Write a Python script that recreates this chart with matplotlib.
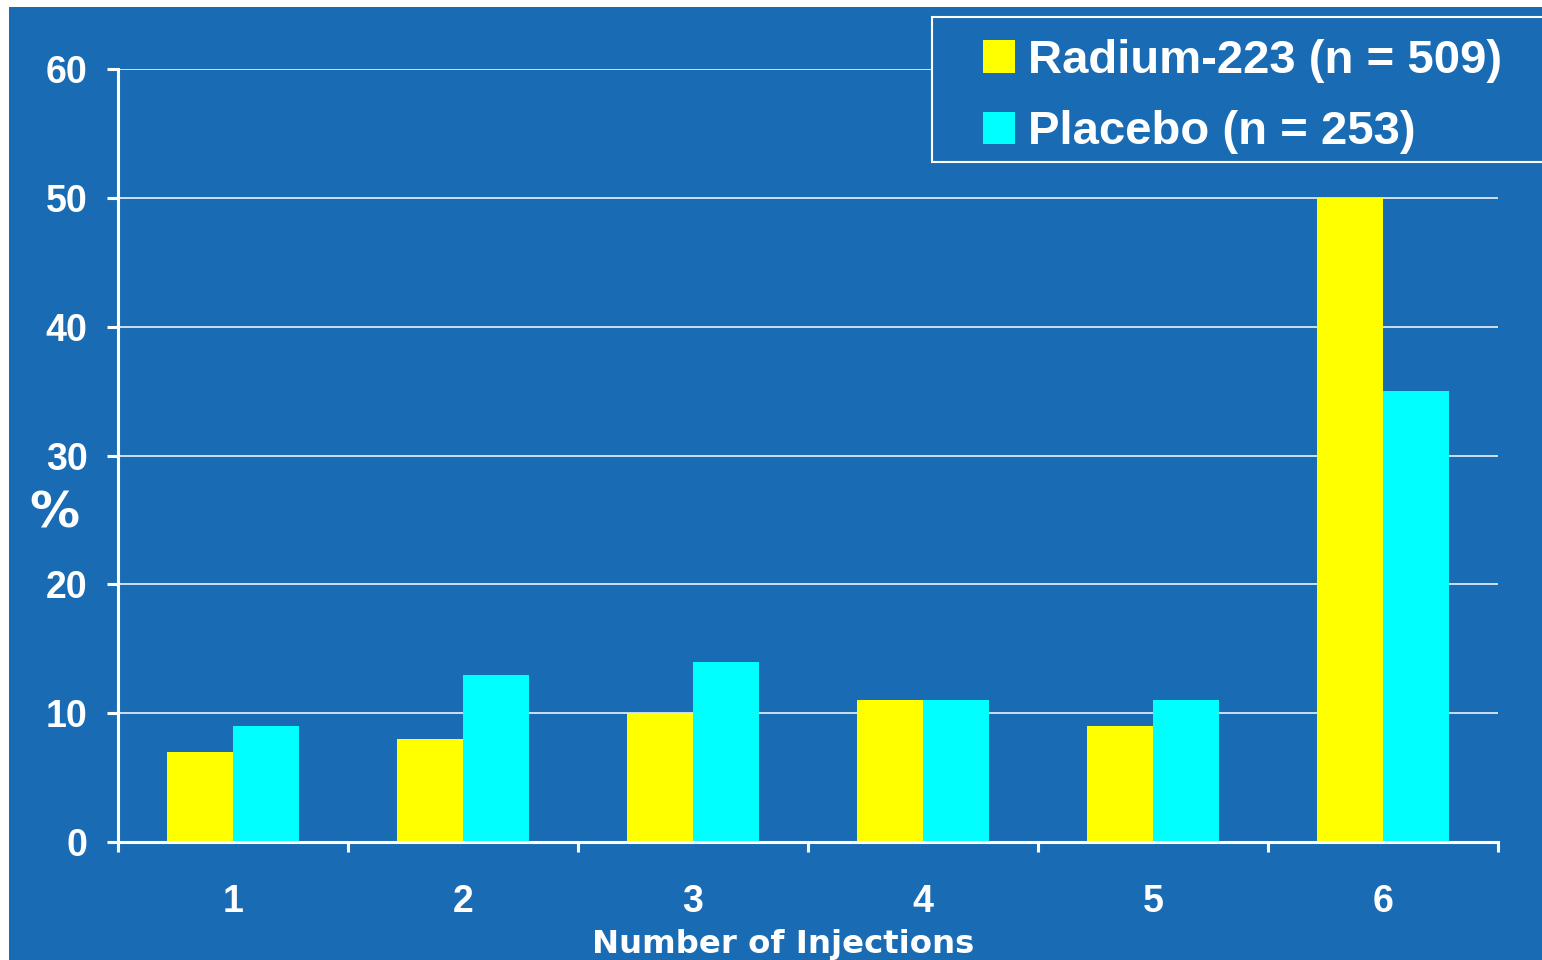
import matplotlib
matplotlib.use('Agg')
import matplotlib.pyplot as plt
from matplotlib.patches import Rectangle, Patch
import numpy as np

# data
injections = ['1', '2', '3', '4', '5', '6']
radium = [7, 8, 10, 11, 9, 50]
placebo = [9, 13, 14, 11, 11, 35]
series_labels = ['Radium-223 (n = 509)', 'Placebo (n = 253)']
yticks = [0, 10, 20, 30, 40, 50, 60]

BLUE = '#196CB4'
W, H = 1542, 960

fig = plt.figure(figsize=(W / 100, H / 100), dpi=100, facecolor='white')
# blue slide background, white margin on left and top
fig.patches.append(Rectangle((9 / W, 0), 1, 1 - 7 / H, transform=fig.transFigure,
                             facecolor=BLUE, edgecolor='none', zorder=-1))

ax = fig.add_axes([118 / W, 118 / H, 1380 / W, 773 / H])
ax.set_facecolor('none')

x = np.arange(len(injections))
bw = 0.285
ax.bar(x - bw / 2, radium, bw, color='#FFFF00', zorder=3)
ax.bar(x + bw / 2, placebo, bw, color='#00FFFF', zorder=3)

ax.set_xlim(-0.5, len(injections) - 0.5)
ax.set_ylim(0, 60)
ax.set_yticks(yticks)
ax.set_xticks(x)
ax.set_xticklabels(injections)
ax.set_xticks(np.arange(len(injections) + 1) - 0.5, minor=True)
ax.tick_params(axis='x', which='major', length=0, pad=30)
ax.tick_params(axis='x', which='minor', length=7, width=2.2, color='white', direction='out')
ax.tick_params(axis='y', length=8, width=2.2, color='white', direction='out', pad=14)
for lab in ax.get_xticklabels() + ax.get_yticklabels():
    lab.set_fontfamily('Liberation Sans')
    lab.set_fontweight('bold')
    lab.set_fontsize(27)
    lab.set_color('white')

ax.yaxis.grid(True, color='white', linewidth=1.1, zorder=1)
ax.set_axisbelow(True)
for side in ['top', 'right']:
    ax.spines[side].set_visible(False)
for side in ['left', 'bottom']:
    ax.spines[side].set_color('white')
    ax.spines[side].set_linewidth(2.2)
ax.spines['bottom'].set_zorder(4)

fig.text(54 / W, 1 - 513 / H, '%', fontsize=36, fontweight='bold', color='white',
         family='DejaVu Sans', ha='center', va='center')
fig.text(783 / W, 1 - 944 / H, 'Number of Injections', fontsize=23.3, fontweight='bold',
         color='white', family='DejaVu Sans', ha='center', va='center')

# legend box, running off the right edge as in the slide
fig.patches.append(Rectangle((932 / W, 1 - 162 / H), 700 / W, 145 / H, transform=fig.transFigure,
                             facecolor=BLUE, edgecolor='white', linewidth=1.5, zorder=5))
handles = [Patch(facecolor='#FFFF00', edgecolor='none'), Patch(facecolor='#00FFFF', edgecolor='none')]
leg = fig.legend(handles, series_labels, loc='upper left', bbox_to_anchor=(950 / W, 1 - 6 / H),
                 frameon=False, prop={'family': 'Liberation Sans', 'weight': 'bold', 'size': 34},
                 handlelength=0.68, handleheight=0.68, handletextpad=0.28, labelspacing=0.58,
                 borderpad=0.2)
for t in leg.get_texts():
    t.set_color('white')
leg.set_zorder(6)

fig.savefig('out.png', dpi=100, facecolor='white')
